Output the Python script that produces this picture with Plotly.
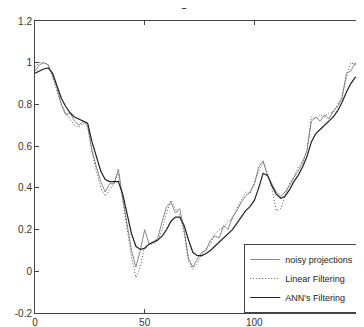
import plotly.graph_objects as go

# sample positions
x_vals = [0, 2, 4, 6, 8, 10, 12, 14, 16, 18, 20, 22, 24, 26, 28, 30, 32, 34, 36, 38,
          40, 42, 44, 46, 48, 50, 52, 54, 56, 58, 60, 62, 64, 66, 68, 70, 72, 74, 76, 78,
          80, 82, 84, 86, 88, 90, 92, 94, 96, 98, 100, 102, 104, 106, 108, 110, 112, 114,
          116, 118, 120, 122, 124, 126, 128, 130, 132, 134, 136, 138, 140, 142, 144, 146,
          148, 150]

noisy = [0.96, 0.99, 1.00, 0.99, 0.94, 0.88, 0.80, 0.75, 0.76, 0.72, 0.70, 0.72, 0.70,
         0.58, 0.50, 0.43, 0.38, 0.42, 0.42, 0.49, 0.35, 0.22, 0.10, 0.02, 0.10, 0.20,
         0.13, 0.14, 0.16, 0.24, 0.31, 0.33, 0.28, 0.30, 0.20, 0.06, 0.02, 0.06, 0.09,
         0.10, 0.15, 0.17, 0.16, 0.22, 0.20, 0.26, 0.29, 0.33, 0.36, 0.38, 0.42, 0.50,
         0.53, 0.46, 0.42, 0.38, 0.36, 0.38, 0.41, 0.45, 0.48, 0.52, 0.58, 0.72, 0.74,
         0.72, 0.75, 0.73, 0.77, 0.79, 0.83, 0.95, 0.96, 1.00, 0.96, 0.97]

linear = [0.98, 1.00, 1.00, 0.99, 0.93, 0.87, 0.80, 0.76, 0.73, 0.70, 0.69, 0.71, 0.69,
          0.57, 0.48, 0.40, 0.36, 0.39, 0.42, 0.47, 0.33, 0.20, 0.07, -0.03, 0.02, 0.12,
          0.13, 0.13, 0.15, 0.20, 0.28, 0.34, 0.30, 0.27, 0.18, 0.05, 0.01, 0.04, 0.08,
          0.11, 0.13, 0.18, 0.20, 0.21, 0.24, 0.25, 0.30, 0.34, 0.38, 0.37, 0.42, 0.48,
          0.52, 0.47, 0.40, 0.29, 0.30, 0.36, 0.42, 0.45, 0.50, 0.53, 0.57, 0.74, 0.73,
          0.75, 0.74, 0.76, 0.76, 0.80, 0.84, 0.93, 1.00, 0.99, 1.00, 0.97]

ann = [0.95, 0.96, 0.97, 0.975, 0.95, 0.89, 0.83, 0.79, 0.76, 0.74, 0.73, 0.72, 0.71,
       0.62, 0.55, 0.48, 0.44, 0.43, 0.43, 0.43, 0.37, 0.27, 0.18, 0.12, 0.105, 0.11,
       0.13, 0.14, 0.15, 0.17, 0.20, 0.24, 0.26, 0.26, 0.22, 0.15, 0.09, 0.075, 0.075,
       0.085, 0.10, 0.12, 0.14, 0.16, 0.18, 0.20, 0.23, 0.26, 0.29, 0.31, 0.34, 0.40,
       0.47, 0.46, 0.41, 0.37, 0.35, 0.36, 0.39, 0.43, 0.46, 0.50, 0.55, 0.62, 0.66,
       0.68, 0.70, 0.72, 0.74, 0.77, 0.81, 0.86, 0.90, 0.93, 0.93, 0.95]

series_names = ["noisy projections", "Linear Filtering", "ANN's Filtering"]
x_ticks = [0, 50, 100, 150]
y_ticks = [-0.2, 0, 0.2, 0.4, 0.6, 0.8, 1, 1.2]
y_tick_labels = ["-0.2", "0", "0.2", "0.4", "0.6", "0.8", "1", "1.2"]
title_text = "Filtering"

fig = go.Figure()
fig.add_trace(go.Scatter(x=x_vals, y=noisy, mode="lines", name=series_names[0],
                         line=dict(color="#8a8a8a", width=1)))
fig.add_trace(go.Scatter(x=x_vals, y=linear, mode="lines", name=series_names[1],
                         line=dict(color="#555555", width=1, dash="1px,2px")))
fig.add_trace(go.Scatter(x=x_vals, y=ann, mode="lines", name=series_names[2],
                         line=dict(color="#222222", width=1.2)))

axis_common = dict(showgrid=False, zeroline=False, showline=True, linecolor="#444444",
                   linewidth=1, mirror="ticks", ticks="inside", ticklen=4,
                   tickcolor="#444444", tickfont=dict(family="Liberation Sans", size=10,
                                                      color="#333333"))

fig.update_layout(
    width=364, height=327,
    margin=dict(l=27, r=7, t=11, b=11),
    paper_bgcolor="white", plot_bgcolor="white",
    showlegend=True,
    legend=dict(x=0.636, y=0, xanchor="left", yanchor="bottom",
                bordercolor="#444444", borderwidth=1, bgcolor="white",
                font=dict(family="Liberation Sans", size=9, color="#222222"),
                tracegroupgap=0, itemwidth=30),
    xaxis=dict(range=[0, 150], tickvals=x_ticks, **axis_common),
    yaxis=dict(range=[-0.2, 1.2], tickvals=y_ticks, ticktext=y_tick_labels,
               **axis_common),
    annotations=[dict(text=title_text, xref="paper", yref="paper", x=0.47, y=1,
                      xanchor="right", yanchor="bottom", yshift=11, showarrow=False,
                      borderpad=0, font=dict(family="Liberation Sans", size=18,
                                             color="#333333"))],
)

fig.write_html("out.html")
